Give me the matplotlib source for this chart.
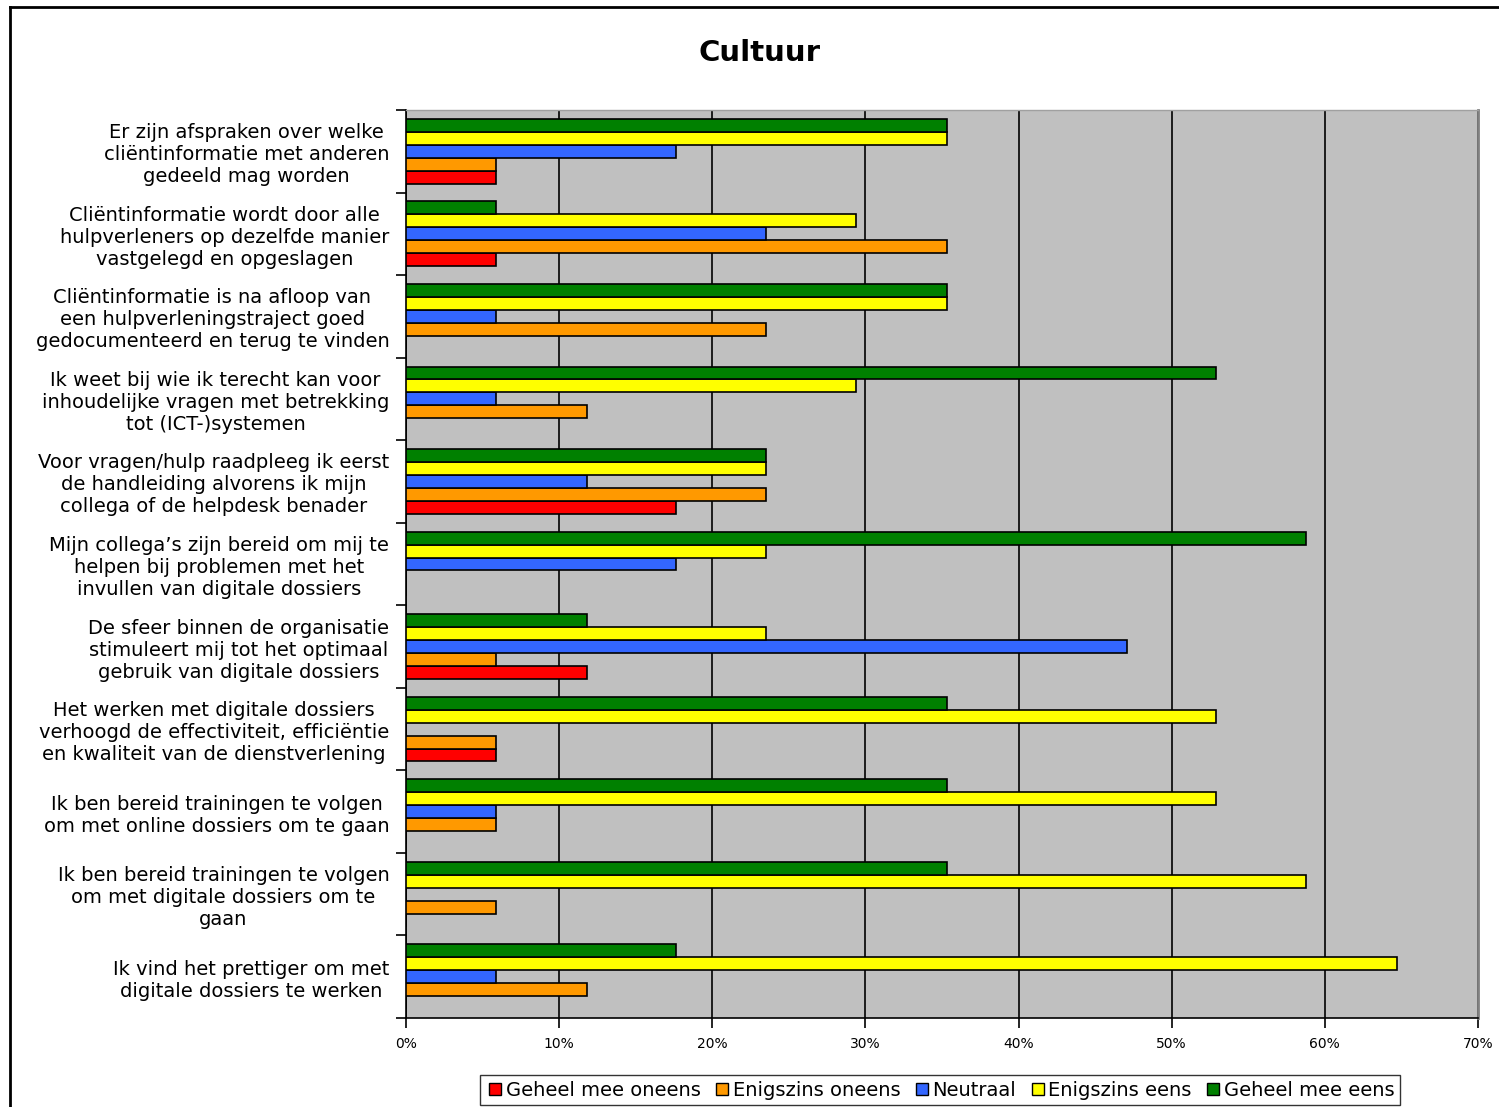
import numpy as np
import matplotlib.pyplot as plt
from matplotlib.lines import Line2D

# Question labels (top to bottom)
questions = [
    "Er zijn afspraken over welke\ncliëntinformatie met anderen\ngedeeld mag worden",
    "Cliëntinformatie wordt door alle\nhulpverleners op dezelfde manier\nvastgelegd en opgeslagen",
    "Cliëntinformatie is na afloop van\neen hulpverleningstraject goed\ngedocumenteerd en terug te vinden",
    "Ik weet bij wie ik terecht kan voor\ninhoudelijke vragen met betrekking\ntot (ICT-)systemen",
    "Voor vragen/hulp raadpleeg ik eerst\nde handleiding alvorens ik mijn\ncollega of de helpdesk benader",
    "Mijn collega’s zijn bereid om mij te\nhelpen bij problemen met het\ninvullen van digitale dossiers",
    "De sfeer binnen de organisatie\nstimuleert mij tot het optimaal\ngebruik van digitale dossiers",
    "Het werken met digitale dossiers\nverhoogd de effectiviteit, efficiëntie\nen kwaliteit van de dienstverlening",
    "Ik ben bereid trainingen te volgen\nom met online dossiers om te gaan",
    "Ik ben bereid trainingen te volgen\nom met digitale dossiers om te\ngaan",
    "Ik vind het prettiger om met\ndigitale dossiers te werken",
]

# Percentages per answer category
geheel_oneens = [5.9, 5.9, 0, 0, 17.6, 0, 11.8, 5.9, 0, 0, 0]
enigszins_oneens = [5.9, 35.3, 23.5, 11.8, 23.5, 0, 5.9, 5.9, 5.9, 5.9, 11.8]
neutraal = [17.6, 23.5, 5.9, 5.9, 11.8, 17.6, 47.1, 0, 5.9, 0, 5.9]
enigszins_eens = [35.3, 29.4, 35.3, 29.4, 23.5, 23.5, 23.5, 52.9, 52.9, 58.8, 64.7]
geheel_eens = [35.3, 5.9, 35.3, 52.9, 23.5, 58.8, 11.8, 35.3, 35.3, 35.3, 17.6]

series = [
    ("Geheel mee oneens", geheel_oneens, "#FF0000"),
    ("Enigszins oneens", enigszins_oneens, "#FF9900"),
    ("Neutraal", neutraal, "#3366FF"),
    ("Enigszins eens", enigszins_eens, "#FFFF00"),
    ("Geheel mee eens", geheel_eens, "#008000"),
]

plt.rcParams['font.family'] = ['DejaVu Sans']

fig = plt.figure(figsize=(14.99, 11.07), dpi=100)
ax = fig.add_axes([406 / 1499, 1 - 1018 / 1107, 1072 / 1499, 908 / 1107])
ax.set_facecolor("#C0C0C0")

n = len(questions)
y = np.arange(n)
bh = 0.157
# red lowest in each group, green on top (y axis inverted)
offsets = [2 * bh, bh, 0, -bh, -2 * bh]
for (name, vals, col), off in zip(series, offsets):
    ax.barh(y + off, vals, height=bh, color=col, edgecolor="black",
            linewidth=1.2, label=name, zorder=3)

ax.set_xlim(0, 70)
ax.set_ylim(n - 0.5, -0.5)

ax.set_xticks(np.arange(0, 71, 10))
ax.set_xticklabels([f"{v}%" for v in range(0, 71, 10)], fontsize=10)
ax.xaxis.grid(True, color="black", linewidth=1.2, zorder=1)
ax.set_axisbelow(True)

ax.set_yticks(np.arange(-0.5, n, 1.0))
ax.set_yticklabels([])
ax.set_yticks(y, minor=True)
ax.set_yticklabels(questions, minor=True, fontsize=14, linespacing=1.2,
                   ha="right", multialignment="center")
ax.tick_params(axis="y", which="minor", length=0, pad=12)
ax.tick_params(axis="y", which="major", length=7, width=1.2, direction="out")
ax.tick_params(axis="x", length=7, width=1.2, direction="out", pad=7)

for s in ["left", "bottom"]:
    ax.spines[s].set_color("black")
    ax.spines[s].set_linewidth(1.2)
ax.spines["right"].set_color("#808080")
ax.spines["right"].set_linewidth(2)
ax.spines["top"].set_color("#A0A0A0")
ax.spines["top"].set_linewidth(1)

fig.text(760 / 1499, 1 - 53 / 1107, "Cultuur", fontsize=21, fontweight="bold",
         ha="center", va="center")

handles = [Line2D([], [], marker="s", linestyle="none", markersize=9,
                  markerfacecolor=col, markeredgecolor="black", label=name)
           for name, vals, col in series]
fig.legend(handles=handles, loc="center", bbox_to_anchor=(940 / 1499, 1 - 1090 / 1107),
           ncol=5, fontsize=14, frameon=True, fancybox=False, edgecolor="black",
           handletextpad=0.05, columnspacing=0.6, borderpad=0.3, handlelength=1.0)

# figure border (left and top only visible)
fig.add_artist(Line2D([10 / 1499, 10 / 1499], [0, 1 - 7 / 1107], color="black",
                      linewidth=2, transform=fig.transFigure))
fig.add_artist(Line2D([10 / 1499, 1], [1 - 7 / 1107, 1 - 7 / 1107], color="black",
                      linewidth=2, transform=fig.transFigure))

fig.savefig("out.png", dpi=100)
